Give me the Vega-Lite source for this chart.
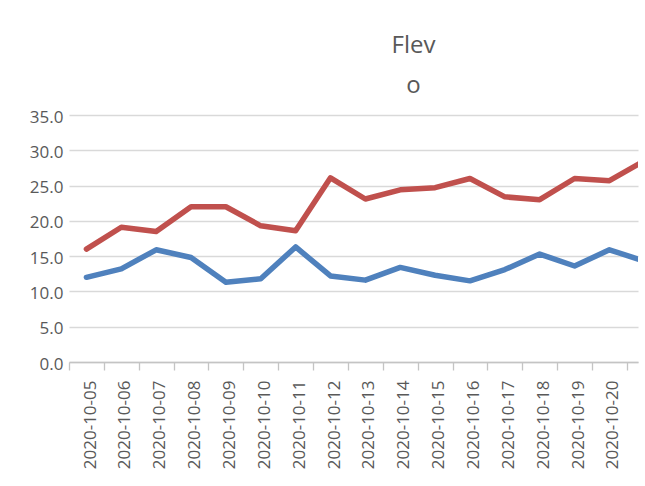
{
  "$schema": "https://vega.github.io/schema/vega-lite/v6.json",
  "autosize": {"type": "none"},
  "width": 569,
  "height": 247,
  "padding": {"left": 69, "top": 115, "right": 7, "bottom": 124},
  "background": "white",
  "title": {
    "text": ["Flev", "o"],
    "font": "Open Sans",
    "fontSize": 24,
    "fontWeight": "normal",
    "color": "#595959",
    "lineHeight": 40,
    "anchor": "middle",
    "dx": 60,
    "offset": 10
  },
  "config": {"view": {"stroke": null}},
  "data": {
    "values": [
      {"date": "2020-10-05", "series": "Series1", "value": 12.0},
      {"date": "2020-10-06", "series": "Series1", "value": 13.2},
      {"date": "2020-10-07", "series": "Series1", "value": 15.9},
      {"date": "2020-10-08", "series": "Series1", "value": 14.8},
      {"date": "2020-10-09", "series": "Series1", "value": 11.3},
      {"date": "2020-10-10", "series": "Series1", "value": 11.8},
      {"date": "2020-10-11", "series": "Series1", "value": 16.3},
      {"date": "2020-10-12", "series": "Series1", "value": 12.2},
      {"date": "2020-10-13", "series": "Series1", "value": 11.6},
      {"date": "2020-10-14", "series": "Series1", "value": 13.4},
      {"date": "2020-10-15", "series": "Series1", "value": 12.3},
      {"date": "2020-10-16", "series": "Series1", "value": 11.5},
      {"date": "2020-10-17", "series": "Series1", "value": 13.1},
      {"date": "2020-10-18", "series": "Series1", "value": 15.3},
      {"date": "2020-10-19", "series": "Series1", "value": 13.6},
      {"date": "2020-10-20", "series": "Series1", "value": 15.9},
      {"date": "2020-10-21", "series": "Series1", "value": 14.3},
      {"date": "2020-10-05", "series": "Series2", "value": 16.0},
      {"date": "2020-10-06", "series": "Series2", "value": 19.1},
      {"date": "2020-10-07", "series": "Series2", "value": 18.5},
      {"date": "2020-10-08", "series": "Series2", "value": 22.0},
      {"date": "2020-10-09", "series": "Series2", "value": 22.0},
      {"date": "2020-10-10", "series": "Series2", "value": 19.3},
      {"date": "2020-10-11", "series": "Series2", "value": 18.6},
      {"date": "2020-10-12", "series": "Series2", "value": 26.1},
      {"date": "2020-10-13", "series": "Series2", "value": 23.1},
      {"date": "2020-10-14", "series": "Series2", "value": 24.4},
      {"date": "2020-10-15", "series": "Series2", "value": 24.7},
      {"date": "2020-10-16", "series": "Series2", "value": 26.0},
      {"date": "2020-10-17", "series": "Series2", "value": 23.4},
      {"date": "2020-10-18", "series": "Series2", "value": 23.0},
      {"date": "2020-10-19", "series": "Series2", "value": 26.0},
      {"date": "2020-10-20", "series": "Series2", "value": 25.7},
      {"date": "2020-10-21", "series": "Series2", "value": 28.5}
    ]
  },
  "mark": {"type": "line", "strokeWidth": 5.5, "clip": true, "strokeJoin": "round", "strokeCap": "round"},
  "encoding": {
    "x": {
      "field": "date",
      "type": "temporal",
      "timeUnit": "utcyearmonthdate",
      "bandPosition": 0.5,
      "scale": {
        "type": "utc",
        "domain": [
          {"year": 2020, "month": 10, "date": 5, "utc": true},
          {"year": 2020, "month": 10, "date": 21, "hours": 7, "minutes": 40, "utc": true}
        ]
      },
      "axis": {
        "title": null,
        "grid": false,
        "values": [
          {"year": 2020, "month": 10, "date": 5, "utc": true},
          {"year": 2020, "month": 10, "date": 6, "utc": true},
          {"year": 2020, "month": 10, "date": 7, "utc": true},
          {"year": 2020, "month": 10, "date": 8, "utc": true},
          {"year": 2020, "month": 10, "date": 9, "utc": true},
          {"year": 2020, "month": 10, "date": 10, "utc": true},
          {"year": 2020, "month": 10, "date": 11, "utc": true},
          {"year": 2020, "month": 10, "date": 12, "utc": true},
          {"year": 2020, "month": 10, "date": 13, "utc": true},
          {"year": 2020, "month": 10, "date": 14, "utc": true},
          {"year": 2020, "month": 10, "date": 15, "utc": true},
          {"year": 2020, "month": 10, "date": 16, "utc": true},
          {"year": 2020, "month": 10, "date": 17, "utc": true},
          {"year": 2020, "month": 10, "date": 18, "utc": true},
          {"year": 2020, "month": 10, "date": 19, "utc": true},
          {"year": 2020, "month": 10, "date": 20, "utc": true},
          {"year": 2020, "month": 10, "date": 21, "utc": true}
        ],
        "labelExpr": "datum.index >= 0.999 ? '' : utcFormat(datum.value, '%Y-%m-%d')",
        "labelAngle": -90,
        "labelAlign": "right",
        "labelBaseline": "middle",
        "labelPadding": 10,
        "labelOffset": 21,
        "labelFlush": false,
        "labelBound": false,
        "labelOverlap": false,
        "labelFont": "Open Sans",
        "labelFontSize": 17,
        "labelColor": "#595959",
        "domainColor": "#C4C4C4",
        "domainWidth": 1.3,
        "tickColor": "#C4C4C4",
        "tickWidth": 1.3,
        "tickSize": 8
      }
    },
    "y": {
      "field": "value",
      "type": "quantitative",
      "scale": {"domain": [0, 35], "nice": false, "zero": true},
      "axis": {
        "title": null,
        "values": [0, 5, 10, 15, 20, 25, 30, 35],
        "format": ".1f",
        "domain": false,
        "ticks": false,
        "grid": true,
        "gridColor": "#D9D9D9",
        "gridWidth": 1.3,
        "labelPadding": 6,
        "labelOffset": 2,
        "labelFont": "Open Sans",
        "labelFontSize": 17,
        "labelColor": "#595959"
      }
    },
    "color": {
      "field": "series",
      "type": "nominal",
      "scale": {"domain": ["Series1", "Series2"], "range": ["#4F81BD", "#C0504D"]},
      "legend": null
    }
  }
}
